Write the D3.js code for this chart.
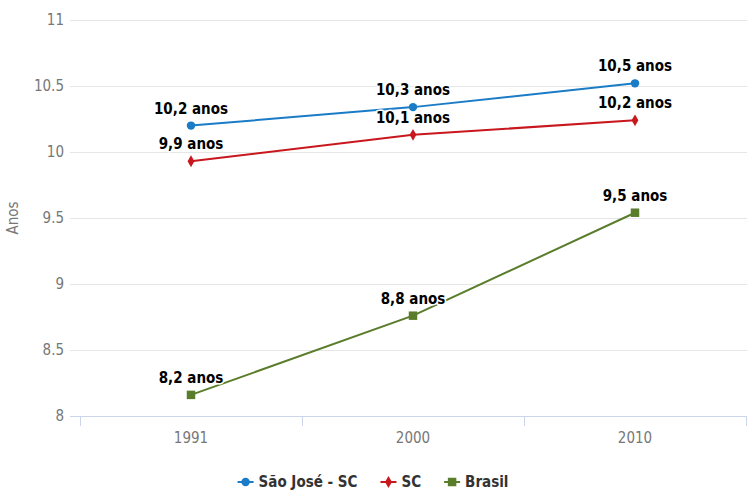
<!DOCTYPE html>
<html><head><meta charset="utf-8">
<script src="https://cdn.jsdelivr.net/npm/d3@7"></script>
<style>
body{margin:0;background:#fff;}
svg{display:block;font-family:"Liberation Sans Narrow","DejaVu Sans Condensed","Open Sans",sans-serif;}
</style></head>
<body><svg id="c" width="747" height="490"></svg>
<script>
const categories = ["1991", "2000", "2010"];
const seriesNames = ["São José - SC", "SC", "Brasil"];
const saoJose = [10.20, 10.34, 10.52];
const sc = [9.93, 10.13, 10.24];
const brasil = [8.16, 8.76, 9.54];
const saoJoseLabels = ["10,2 anos", "10,3 anos", "10,5 anos"];
const scLabels = ["9,9 anos", "10,1 anos", "10,2 anos"];
const brasilLabels = ["8,2 anos", "8,8 anos", "9,5 anos"];
const yTicks = [8, 8.5, 9, 9.5, 10, 10.5, 11];
const yTitle = "Anos";

(function () {
const colors = ["#1a7cc6", "#c8171d", "#5a7d2c"];
const symbols = [d3.symbolCircle, d3.symbolDiamond, d3.symbolSquare];
const symSizes = [56, 40, 72];

const series = [
  {name: seriesNames[0], values: saoJose, labels: saoJoseLabels},
  {name: seriesNames[1], values: sc, labels: scLabels},
  {name: seriesNames[2], values: brasil, labels: brasilLabels}
];

const svg = d3.select("#c");
const pLeft = 80, pRight = 746, pTop = 20, pBottom = 416;
const x = d3.scaleBand().domain(categories).range([pLeft, pRight]);
const y = d3.scaleLinear().domain([8, 11]).range([pBottom, pTop]);

// gridlines
svg.append("g").selectAll("line").data(yTicks.filter(t => t !== 8)).join("line")
  .attr("x1", 70).attr("x2", 747)
  .attr("y1", d => Math.round(y(d)) + 0.5).attr("y2", d => Math.round(y(d)) + 0.5)
  .attr("stroke", "#e6e6e6").attr("stroke-width", 1);

// y tick labels
svg.append("g").selectAll("text").data(yTicks).join("text")
  .attr("x", 64).attr("y", d => y(d) + 5)
  .attr("text-anchor", "end").attr("font-size", 15).attr("fill", "#777")
  .text(d => d);

// y title
svg.append("text")
  .attr("transform", `translate(18,${(pTop + pBottom) / 2}) rotate(-90)`)
  .attr("text-anchor", "middle").attr("font-size", 15).attr("fill", "#777")
  .text(yTitle);

// x axis
const xAxis = svg.append("g");
xAxis.append("line").attr("x1", 70).attr("x2", 747)
  .attr("y1", pBottom + 0.5).attr("y2", pBottom + 0.5)
  .attr("stroke", "#ccd6eb");
const bounds = categories.map(c => x(c)).concat([x.range()[1]]);
xAxis.selectAll("line.tick").data(bounds).join("line").attr("class", "tick")
  .attr("x1", d => Math.round(d) + 0.5).attr("x2", d => Math.round(d) + 0.5)
  .attr("y1", pBottom).attr("y2", pBottom + 10)
  .attr("stroke", "#ccd6eb");
xAxis.selectAll("text").data(categories).join("text")
  .attr("x", d => x(d) + x.bandwidth() / 2).attr("y", pBottom + 27)
  .attr("text-anchor", "middle").attr("font-size", 15).attr("fill", "#777")
  .text(d => d);

const cx = c => x(c) + x.bandwidth() / 2;
const line = d3.line().x((d, i) => cx(categories[i])).y(d => y(d));

series.forEach((s, si) => {
  const g = svg.append("g");
  g.append("path").attr("d", line(s.values)).attr("fill", "none")
    .attr("stroke", colors[si]).attr("stroke-width", 2);
  g.selectAll("path.m").data(s.values).join("path").attr("class", "m")
    .attr("transform", (d, i) => `translate(${cx(categories[i])},${y(d)})`)
    .attr("d", d3.symbol().type(symbols[si]).size(symSizes[si]))
    .attr("fill", colors[si]);
});

// data labels on top
series.forEach((s, si) => {
  const lg = svg.append("g");
  lg.selectAll("text").data(s.values).join("text")
    .attr("x", (d, i) => cx(categories[i])).attr("y", d => y(d) - 12)
    .attr("text-anchor", "middle").attr("font-size", 15).attr("font-weight", "bold")
    .attr("fill", "#000").attr("stroke", "#fff").attr("stroke-width", 3)
    .attr("paint-order", "stroke").attr("stroke-linejoin", "round")
    .text((d, i) => s.labels[i]);
});

// legend
const legend = svg.append("g");
const items = [];
let lx = 0;
const tmp = svg.append("text").attr("font-size", 15).attr("font-weight", "bold");
series.forEach((s, si) => {
  tmp.text(s.name);
  const w = tmp.node().getComputedTextLength();
  items.push({x: lx, w, si});
  lx += 22 + w + 22;
});
tmp.remove();
const totalW = lx - 22;
const lx0 = 373.5 - totalW / 2;
items.forEach(it => {
  const gx = lx0 + it.x;
  const gy = 482;
  legend.append("line").attr("x1", gx).attr("x2", gx + 16).attr("y1", gy).attr("y2", gy)
    .attr("stroke", colors[it.si]).attr("stroke-width", 2);
  legend.append("path").attr("transform", `translate(${gx + 8},${gy})`)
    .attr("d", d3.symbol().type(symbols[it.si]).size(symSizes[it.si]))
    .attr("fill", colors[it.si]);
  legend.append("text").attr("x", gx + 21).attr("y", gy + 5)
    .attr("font-size", 15).attr("font-weight", "bold").attr("fill", "#333")
    .text(series[it.si].name);
});
})();
</script></body></html>
